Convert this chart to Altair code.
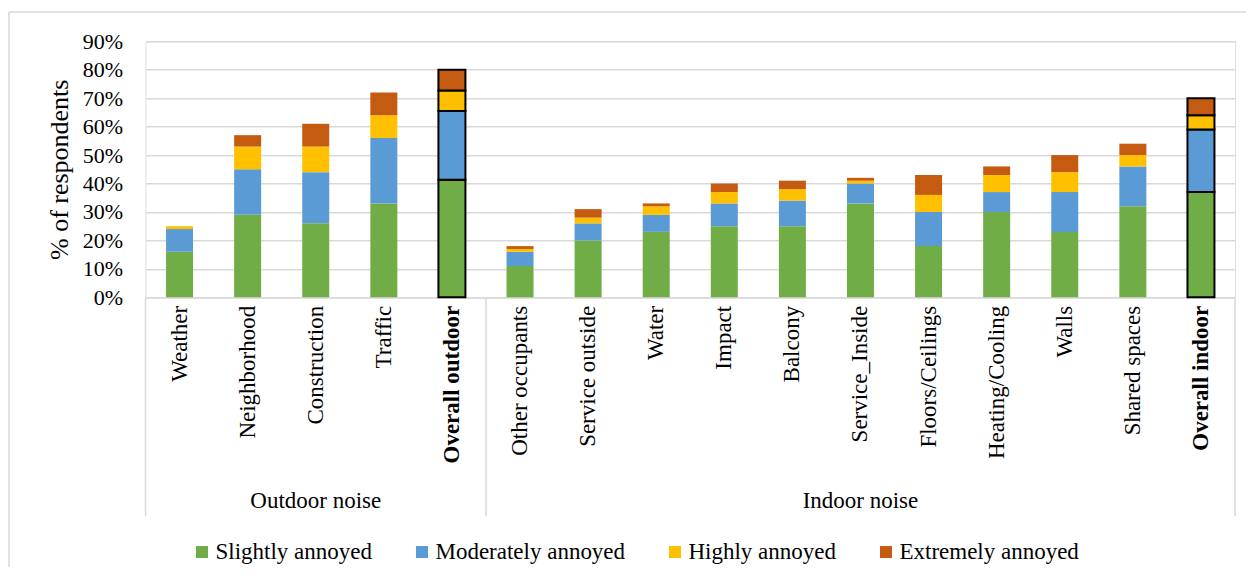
import altair as alt
import pandas as pd

categories = ["Weather", "Neighborhood", "Construction", "Traffic", "Overall outdoor",
              "Other occupants", "Service outside", "Water", "Impact", "Balcony",
              "Service_Inside", "Floors/Ceilings", "Heating/Cooling", "Walls",
              "Shared spaces", "Overall indoor"]
levels = ["Slightly annoyed", "Moderately annoyed", "Highly annoyed", "Extremely annoyed"]
slightly = [16, 29, 26, 33, 41.3, 11, 20, 23, 25, 25, 33, 18, 30, 23, 32, 37]
moderately = [8, 16, 18, 23, 24.2, 5, 6, 6, 8, 9, 7, 12, 7, 14, 14, 22]
highly = [1, 8, 9, 8, 7.2, 1, 2, 3, 4, 4, 1, 6, 6, 7, 4, 5]
extremely = [0, 4, 8, 8, 7.3, 1, 3, 1, 3, 3, 1, 7, 3, 6, 4, 6]
colors = ["#70AD47", "#5B9BD5", "#FFC000", "#C55A11"]
groups = ["Outdoor noise", "Indoor noise"]
group_centers = ["Construction", "Service_Inside"]
y_ticks = [0, 0.1, 0.2, 0.3, 0.4, 0.5, 0.6, 0.7, 0.8, 0.9]

rows = []
for i, c in enumerate(categories):
    for k, (lev, series) in enumerate(zip(levels, [slightly, moderately, highly, extremely])):
        rows.append({"cat": c, "level": lev, "ord": k, "value": series[i] / 100})
df = pd.DataFrame(rows)

FONT = "Liberation Serif"
GRID = "#D9D9D9"
W, H = 1089.5, 256
xscale = alt.Scale(domain=categories, paddingInner=0, paddingOuter=0)
overall_test = "datum.cat == 'Overall outdoor' || datum.cat == 'Overall indoor'"

bars = alt.Chart(df).mark_bar(size=27).encode(
    x=alt.X("cat:N", sort=categories, scale=xscale, title=None,
            axis=alt.Axis(labelAngle=-90, labelFont=FONT, labelFontSize=23, labelColor="black",
                          labelPadding=8, ticks=False, domainColor=GRID, domainWidth=1.5,
                          labelLimit=400, grid=False,
                          labelFontWeight={"condition": {"test": "datum.value == 'Overall outdoor' || datum.value == 'Overall indoor'", "value": "bold"}, "value": "normal"})),
    y=alt.Y("value:Q", stack="zero", scale=alt.Scale(domain=[0, 0.9], nice=False),
            title="% of respondents",
            axis=alt.Axis(format=".0%", values=y_ticks, labelFont=FONT, labelFontSize=22,
                          labelColor="black", labelPadding=23, ticks=False, domain=False,
                          gridColor=GRID, gridWidth=1.5, titleFont=FONT, titleFontSize=26,
                          titleFontWeight="normal", titleColor="black", titlePadding=10)),
    color=alt.Color("level:N", scale=alt.Scale(domain=levels, range=colors),
                    legend=alt.Legend(title=None, orient="none", direction="horizontal",
                                      legendX=45, legendY=499, symbolType="square",
                                      symbolSize=144, symbolStrokeWidth=0, labelFont=FONT,
                                      labelFontSize=23, labelColor="black", labelOffset=2,
                                      labelLimit=400, columnPadding=38, padding=0)),
    order=alt.Order("ord:Q"),
    stroke=alt.condition(overall_test, alt.value("black"), alt.value("transparent")),
    strokeWidth=alt.condition(overall_test, alt.value(2), alt.value(0)),
)

sep_df = pd.DataFrame({"cat": ["Weather", "Other occupants"]})
seps = alt.Chart(sep_df).mark_rule(color=GRID, strokeWidth=1.5).encode(
    x=alt.X("cat:N", sort=categories, scale=xscale, bandPosition=0),
    y=alt.value(H), y2=alt.value(H + 219))
sep_right = alt.Chart(pd.DataFrame({"cat": ["Overall indoor"]})).mark_rule(
    color=GRID, strokeWidth=1.5).encode(
    x=alt.X("cat:N", sort=categories, scale=xscale, bandPosition=1),
    y=alt.value(H), y2=alt.value(H + 219))

grp = alt.Chart(pd.DataFrame({"cat": group_centers, "label": groups})).mark_text(
    font=FONT, fontSize=23, baseline="middle", align="center", color="black").encode(
    x=alt.X("cat:N", sort=categories, scale=xscale),
    y=alt.value(460), text="label:N")

border_left = alt.Chart(pd.DataFrame({"a": [0]})).mark_rule(color=GRID, strokeWidth=1.5).encode(
    x=alt.value(-136.5), y=alt.value(-29.3), y2=alt.value(600))
border_top = alt.Chart(pd.DataFrame({"a": [0]})).mark_rule(color=GRID, strokeWidth=1.5).encode(
    x=alt.value(-136.5), x2=alt.value(1200), y=alt.value(-29.3))

chart = alt.layer(border_left, border_top, bars, seps, sep_right, grp).properties(
    width=W, height=H,
    autosize=alt.AutoSizeParams(type="none"),
    padding={"left": 137.5, "top": 33.3, "right": 11, "bottom": 270},
).configure_view(stroke=None).configure(font=FONT)

chart.save("out.html", embed_options={"renderer": "svg", "actions": False})
